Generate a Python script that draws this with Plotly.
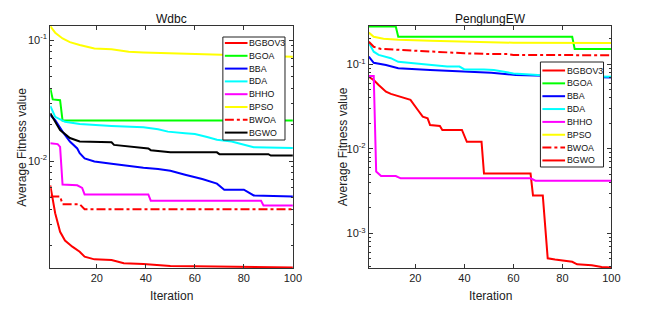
import plotly.graph_objects as go

W, H = 650, 314

names = ["BGBOV3", "BGOA", "BBA", "BDA", "BHHO", "BPSO", "BWOA", "BGWO"]
colors = ["#ff0000", "#00ff00", "#0000ff", "#00ffff", "#ff00ff", "#ffff00", "#ff0000", "#000000"]
dashes = ["solid", "solid", "solid", "solid", "solid", "solid", "dashdot", "solid"]
# legend line colours shown in the PenglungEW panel (BGWO drawn red there)
colors_right_legend = ["#ff0000", "#00ff00", "#0000ff", "#00ffff", "#ff00ff", "#ffff00", "#ff0000", "#ff0000"]

x_ticks = [20, 40, 60, 80, 100]

# ---------------- Wdbc ----------------
wdbc_bgbov3_x = [1, 2, 3, 5, 7, 10, 13, 15, 17, 19, 26, 31, 39, 50, 60, 70, 80, 90, 100]
wdbc_bgbov3_y = [0.0063, 0.0049, 0.0037, 0.0026, 0.0022, 0.00196, 0.00178, 0.00162, 0.00158, 0.00154,
                 0.00152, 0.00143, 0.00141, 0.00136, 0.00135, 0.00134, 0.00133, 0.00132, 0.00132]
wdbc_bgoa_x = [1, 2, 5, 6, 100]
wdbc_bgoa_y = [0.040, 0.0323, 0.0318, 0.0216, 0.0216]
wdbc_bba_x = [1, 3, 6, 9, 12, 13, 15, 19, 26, 33, 39, 45, 50, 56, 63, 69, 72, 80, 84, 100]
wdbc_bba_y = [0.024, 0.0218, 0.0175, 0.0145, 0.0127, 0.0116, 0.0105, 0.0099, 0.0095, 0.0091,
              0.0088, 0.0086, 0.0083, 0.0077, 0.0071, 0.0065, 0.0058, 0.0058, 0.0052, 0.0051]
wdbc_bda_x = [1, 3, 7, 13, 26, 39, 45, 49, 56, 60, 65, 69, 75, 81, 84, 100]
wdbc_bda_y = [0.0285, 0.0232, 0.0211, 0.0202, 0.0195, 0.0190, 0.0183, 0.0175, 0.0170, 0.0167,
              0.0158, 0.0150, 0.0145, 0.0136, 0.0130, 0.0128]
wdbc_bhho_x = [1, 4, 5, 6, 12, 13, 14, 15, 41, 42, 87, 88, 100]
wdbc_bhho_y = [0.014, 0.0138, 0.0131, 0.0064, 0.0063, 0.0061, 0.0060, 0.0053, 0.0053, 0.0047,
               0.0047, 0.0043, 0.0043]
wdbc_bpso_x = [1, 3, 6, 9, 13, 19, 26, 33, 39, 51, 60, 70, 80, 90, 100]
wdbc_bpso_y = [0.130, 0.115, 0.103, 0.096, 0.091, 0.085, 0.084, 0.080, 0.079, 0.0776, 0.0765,
               0.0755, 0.0745, 0.0735, 0.0727]
wdbc_bwoa_x = [1, 5, 6, 13, 15, 100]
wdbc_bwoa_y = [0.0051, 0.0051, 0.0044, 0.0044, 0.0040, 0.0040]
wdbc_bgwo_x = [1, 5, 9, 13, 26, 27, 41, 42, 50, 69, 70, 90, 91, 100]
wdbc_bgwo_y = [0.0248, 0.018, 0.0155, 0.0145, 0.0143, 0.0136, 0.0127, 0.0123, 0.0118, 0.0118,
               0.0114, 0.0114, 0.0111, 0.0111]

# ---------------- PenglungEW ----------------
pl_bgbov3_x = [1, 3, 5, 8, 10, 13, 15, 18, 21, 23, 25, 26, 30, 31, 39, 41, 47, 48, 67, 68, 72, 74,
               77, 84, 86, 92, 96, 100]
pl_bgbov3_y = [0.0713, 0.065, 0.057, 0.0474, 0.0446, 0.042, 0.0395, 0.0379, 0.0288, 0.024, 0.0229,
               0.0191, 0.0186, 0.0167, 0.0167, 0.0121, 0.0121, 0.0051, 0.0051, 0.0028, 0.0028,
               0.000506, 0.00049, 0.000461, 0.00043, 0.00042, 0.0004, 0.000395]
pl_bgoa_x = [1, 12, 13, 84, 85, 100]
pl_bgoa_y = [0.28, 0.28, 0.212, 0.212, 0.152, 0.152]
pl_bba_x = [1, 3, 8, 13, 26, 40, 51, 61, 80, 100]
pl_bba_y = [0.123, 0.104, 0.098, 0.0897, 0.0856, 0.0818, 0.0796, 0.0747, 0.072, 0.070]
pl_bda_x = [1, 3, 5, 10, 13, 20, 26, 33, 38, 40, 48, 52, 60, 70, 80, 100]
pl_bda_y = [0.18, 0.141, 0.129, 0.118, 0.107, 0.103, 0.098, 0.094, 0.094, 0.087, 0.087, 0.0855,
            0.078, 0.0745, 0.073, 0.071]
pl_bhho_x = [1, 3, 4, 5, 6, 12, 14, 67, 69, 100]
pl_bhho_y = [0.0727, 0.0727, 0.0054, 0.0051, 0.00477, 0.00477, 0.00448, 0.00448, 0.0042, 0.0042]
pl_bpso_x = [1, 3, 7, 13, 26, 40, 51, 60, 100]
pl_bpso_y = [0.237, 0.212, 0.20, 0.195, 0.19, 0.185, 0.18, 0.18, 0.178]
pl_bwoa_x = [1, 3, 6, 13, 26, 40, 51, 58, 60, 100]
pl_bwoa_y = [0.185, 0.161, 0.152, 0.148, 0.141, 0.135, 0.132, 0.132, 0.129, 0.128]

wdbc = [(wdbc_bgbov3_x, wdbc_bgbov3_y), (wdbc_bgoa_x, wdbc_bgoa_y), (wdbc_bba_x, wdbc_bba_y),
        (wdbc_bda_x, wdbc_bda_y), (wdbc_bhho_x, wdbc_bhho_y), (wdbc_bpso_x, wdbc_bpso_y),
        (wdbc_bwoa_x, wdbc_bwoa_y), (wdbc_bgwo_x, wdbc_bgwo_y)]
peng = [(pl_bgbov3_x, pl_bgbov3_y), (pl_bgoa_x, pl_bgoa_y), (pl_bba_x, pl_bba_y),
        (pl_bda_x, pl_bda_y), (pl_bhho_x, pl_bhho_y), (pl_bpso_x, pl_bpso_y),
        (pl_bwoa_x, pl_bwoa_y), None]

FONT = "Liberation Sans, Arial, sans-serif"
fig = go.Figure()

for i, d in enumerate(wdbc):
    fig.add_trace(go.Scatter(x=d[0], y=d[1], mode="lines", name=names[i], showlegend=False,
                             line=dict(color=colors[i], width=2, dash=dashes[i]),
                             xaxis="x", yaxis="y"))
for i, d in enumerate(peng):
    if d is None:
        continue
    fig.add_trace(go.Scatter(x=d[0], y=d[1], mode="lines", name=names[i], showlegend=False,
                             line=dict(color=colors[i], width=2, dash=dashes[i]),
                             xaxis="x2", yaxis="y2"))

def px2x(p):
    return p / W

def px2y(p):
    return 1 - p / H

left_box = (51, 297)
right_box = (374, 620)
top_px, bot_px = 26, 268

axis_common = dict(showline=True, linecolor="#333", linewidth=1, mirror="ticks", ticks="inside",
                   ticklen=4, tickcolor="#333", showgrid=False, zeroline=False,
                   tickfont=dict(family=FONT, size=11, color="#222"))

def minor_vals(lo_exp, hi_exp):
    v = []
    for e in range(lo_exp, hi_exp + 1):
        for m in range(2, 10):
            v.append(m * 10 ** e)
    return v

fig.update_layout(
    width=W, height=H, autosize=False, margin=dict(l=0, r=0, t=0, b=0),
    paper_bgcolor="white", plot_bgcolor="white", showlegend=False,
    font=dict(family=FONT, size=11, color="#222"),
    xaxis=dict(domain=[px2x(left_box[0]), px2x(left_box[1])], range=[1, 100], tickvals=x_ticks,
               anchor="y", **axis_common),
    yaxis=dict(domain=[px2y(bot_px), px2y(top_px)], type="log", range=[-2.884, -0.884],
               tickvals=[0.01, 0.1], ticktext=["10<sup>-2</sup>", "10<sup>-1</sup>"],
               minor=dict(tickvals=minor_vals(-3, -1), ticks="inside", ticklen=2, tickcolor="#333"),
               anchor="x", **axis_common),
    xaxis2=dict(domain=[px2x(right_box[0]), px2x(right_box[1])], range=[1, 100], tickvals=x_ticks,
                anchor="y2", **axis_common),
    yaxis2=dict(domain=[px2y(bot_px), px2y(top_px)], type="log", range=[-3.41, -0.547],
                tickvals=[0.001, 0.01, 0.1], ticktext=["10<sup>-3</sup>", "10<sup>-2</sup>", "10<sup>-1</sup>"],
                minor=dict(tickvals=minor_vals(-4, -1), ticks="inside", ticklen=2, tickcolor="#333"),
                anchor="x2", **axis_common),
)

annotations = []
shapes = []
# panel titles and axis titles
for (bx, title, ytitle_x) in [(left_box, "Wdbc", 22), (right_box, "PenglungEW", 348)]:
    cx = px2x((bx[0] + bx[1]) / 2)
    annotations.append(dict(x=cx, y=px2y(19), xref="paper", yref="paper",
                            text=title, showarrow=False, xanchor="center", yanchor="middle",
                            font=dict(family=FONT, size=12, color="#111")))
    annotations.append(dict(x=cx, y=px2y(296), xref="paper", yref="paper",
                            text="Iteration", showarrow=False, xanchor="center", yanchor="middle",
                            font=dict(family=FONT, size=12, color="#222")))
    annotations.append(dict(x=px2x(ytitle_x), y=px2y((top_px + bot_px) / 2), xref="paper", yref="paper",
                            text="Average Fitness value", showarrow=False, textangle=-90,
                            xanchor="center", yanchor="middle",
                            font=dict(family=FONT, size=12, color="#222")))

# compact MATLAB-style legends
def add_legend(box, line_x, text_x, first_y, step, cols):
    x0, y0, x1, y1 = box
    shapes.append(dict(type="rect", xref="paper", yref="paper", x0=px2x(x0), x1=px2x(x1),
                       y0=px2y(y1), y1=px2y(y0), line=dict(color="#222", width=1),
                       fillcolor="white", layer="above"))
    for i, n in enumerate(names):
        yy = first_y + i * step
        shapes.append(dict(type="line", xref="paper", yref="paper", x0=px2x(line_x[0]), x1=px2x(line_x[1]),
                           y0=px2y(yy), y1=px2y(yy), layer="above",
                           line=dict(color=cols[i], width=2, dash=dashes[i])))
        annotations.append(dict(x=px2x(text_x), y=px2y(yy), xref="paper", yref="paper", text=n,
                                showarrow=False, xanchor="left", yanchor="middle", xshift=-2,
                                font=dict(family=FONT, size=8.8, color="#111")))

add_legend((226, 37, 289, 140), (228, 251), 252, 43, 12.8, colors)
add_legend((548, 62, 612, 167), (550, 573), 575, 70.5, 12.85, colors_right_legend)

fig.update_layout(annotations=annotations, shapes=shapes)
fig.write_html(
    "out.html",
    config={"responsive": False, "displayModeBar": False},
    post_script="document.documentElement.style.overflow='hidden';"
                "document.body.style.overflow='hidden';"
                "document.body.style.margin='0';document.body.style.padding='0';",
)
